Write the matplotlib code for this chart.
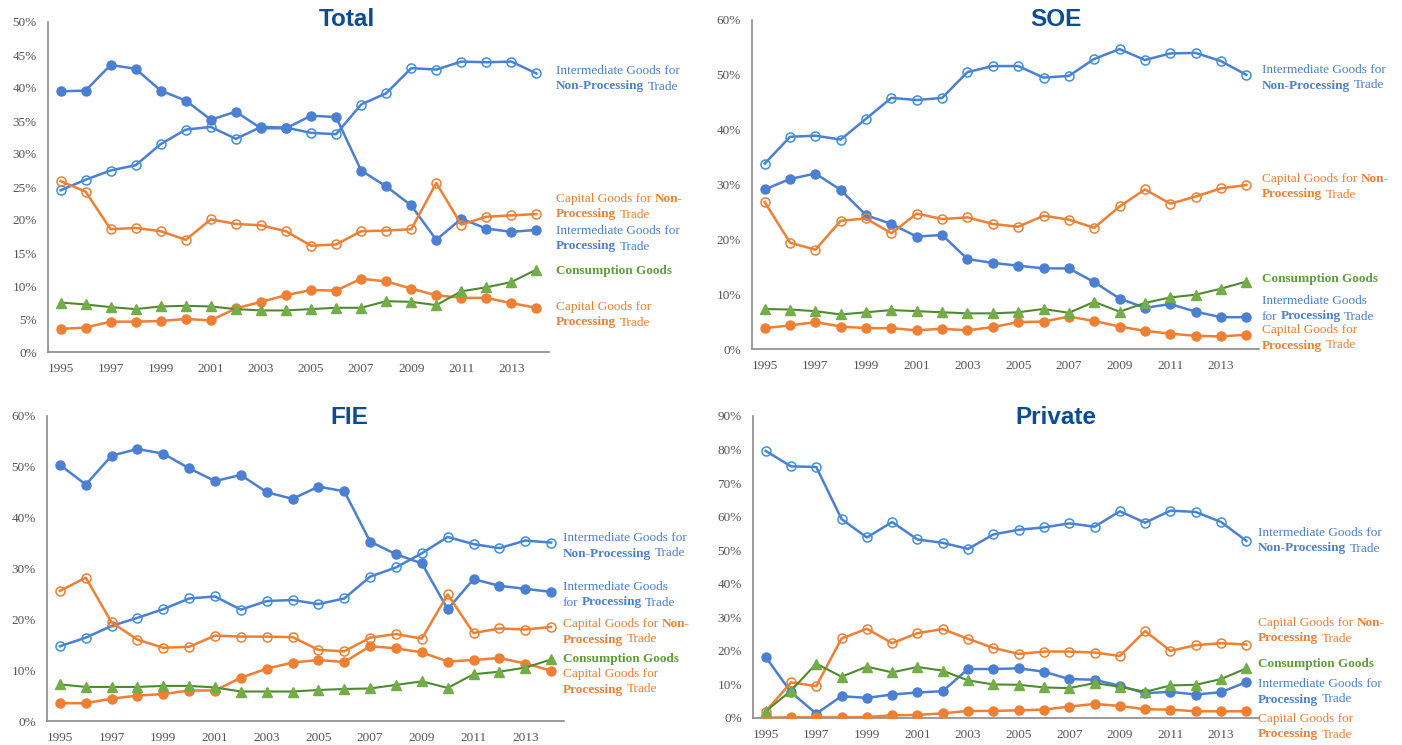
import matplotlib
matplotlib.use("Agg")
import matplotlib.pyplot as plt
import matplotlib.ticker as ticker

years = list(range(1995, 2015))
year_ticks = years[::2]

# ---- Total ----
total_int_nonproc = [24.5, 26.1, 27.5, 28.3, 31.5, 33.7, 34.1, 32.3, 34.1, 34.0,
                     33.2, 33.0, 37.5, 39.2, 43.0, 42.8, 44.0, 43.9, 44.0, 42.2]
total_int_proc = [39.5, 39.6, 43.5, 42.9, 39.6, 38.1, 35.2, 36.4, 33.9, 33.9,
                  35.8, 35.6, 27.5, 25.1, 22.2, 17.0, 20.2, 18.7, 18.2, 18.5]
total_cap_nonproc = [25.9, 24.3, 18.6, 18.8, 18.3, 17.0, 20.1, 19.4, 19.2, 18.3,
                     16.1, 16.3, 18.3, 18.4, 18.6, 25.6, 19.3, 20.5, 20.7, 20.9]
total_cap_proc = [3.5, 3.7, 4.6, 4.6, 4.7, 5.0, 4.8, 6.6, 7.6, 8.6,
                  9.4, 9.3, 11.1, 10.7, 9.6, 8.6, 8.2, 8.2, 7.4, 6.7]
total_consumption = [7.5, 7.2, 6.8, 6.5, 6.9, 7.0, 6.9, 6.5, 6.3, 6.3,
                     6.5, 6.7, 6.7, 7.7, 7.6, 7.1, 9.2, 9.8, 10.6, 12.5]

# ---- SOE ----
soe_int_nonproc = [33.8, 38.7, 38.9, 38.2, 42.0, 45.8, 45.4, 45.8, 50.5, 51.6,
                   51.6, 49.5, 49.8, 52.9, 54.7, 52.7, 53.9, 54.0, 52.5, 50.0]
soe_int_proc = [29.1, 31.0, 32.0, 29.0, 24.4, 22.8, 20.5, 20.8, 16.4, 15.7,
                15.2, 14.7, 14.7, 12.2, 9.2, 7.5, 8.2, 6.8, 5.8, 5.8]
soe_cap_nonproc = [26.8, 19.4, 18.1, 23.4, 23.8, 21.1, 24.7, 23.7, 24.0, 22.8,
                   22.3, 24.3, 23.6, 22.1, 26.0, 29.1, 26.5, 27.8, 29.3, 29.9]
soe_cap_proc = [3.8, 4.3, 4.9, 4.1, 3.8, 3.8, 3.4, 3.7, 3.4, 4.0,
                4.9, 5.0, 5.9, 5.1, 4.1, 3.3, 2.8, 2.4, 2.3, 2.6]
soe_consumption = [7.3, 7.2, 6.9, 6.3, 6.7, 7.1, 6.9, 6.7, 6.5, 6.5,
                   6.7, 7.3, 6.6, 8.6, 6.8, 8.4, 9.4, 9.9, 11.0, 12.3]

# ---- FIE ----
fie_int_nonproc = [14.7, 16.4, 18.7, 20.3, 22.0, 24.1, 24.5, 21.9, 23.6, 23.8,
                   23.0, 24.1, 28.4, 30.2, 33.0, 36.2, 34.8, 34.0, 35.5, 35.1]
fie_int_proc = [50.4, 46.5, 52.2, 53.5, 52.6, 49.7, 47.2, 48.4, 45.0, 43.7,
                46.1, 45.2, 35.3, 32.8, 31.0, 22.0, 27.9, 26.6, 26.0, 25.4]
fie_cap_nonproc = [25.6, 28.2, 19.4, 16.0, 14.4, 14.6, 16.8, 16.6, 16.6, 16.5,
                   14.0, 13.7, 16.4, 17.1, 16.2, 24.9, 17.3, 18.2, 18.0, 18.5]
fie_cap_proc = [3.5, 3.5, 4.4, 5.0, 5.3, 6.0, 6.0, 8.5, 10.3, 11.5,
                12.0, 11.6, 14.7, 14.3, 13.5, 11.7, 12.0, 12.4, 11.3, 9.9]
fie_consumption = [7.2, 6.7, 6.7, 6.7, 6.9, 6.9, 6.6, 5.8, 5.8, 5.8,
                   6.1, 6.3, 6.4, 7.1, 7.8, 6.5, 9.2, 9.7, 10.5, 12.1]

# ---- Private ----
priv_int_nonproc = [79.6, 75.0, 74.8, 59.3, 53.8, 58.4, 53.2, 52.2, 50.4, 54.7,
                    56.1, 56.8, 58.0, 57.0, 61.6, 58.2, 61.8, 61.4, 58.4, 52.8]
priv_int_proc = [18.2, 7.7, 1.3, 6.5, 6.0, 7.0, 7.6, 8.0, 14.6, 14.6,
                 14.8, 13.8, 11.6, 11.4, 9.6, 7.4, 7.8, 7.0, 7.7, 10.7]
priv_cap_nonproc = [1.9, 10.6, 9.5, 23.7, 26.6, 22.3, 25.3, 26.5, 23.6, 20.9,
                    19.1, 19.8, 19.8, 19.5, 18.5, 25.9, 20.0, 21.7, 22.3, 21.9]
priv_cap_proc = [0.1, 0.2, 0.2, 0.2, 0.3, 0.8, 0.9, 1.4, 2.1, 2.1,
                 2.3, 2.5, 3.4, 4.2, 3.6, 2.6, 2.5, 2.0, 2.0, 2.0]
priv_consumption = [2.0, 8.1, 16.2, 12.3, 15.3, 13.6, 15.2, 14.1, 11.2, 10.0,
                    9.9, 9.1, 8.9, 10.4, 9.3, 7.8, 9.7, 9.9, 11.6, 14.8]

BLUE = '#4a7fd2'
BLUE_OPEN = '#3a92e0'
ORANGE = '#ef7f32'
GREEN_LINE = '#4f8a2f'
GREEN_MARK = '#72ad47'
GREEN_TEXT = '#5c9e38'
TITLE_COLOR = '#0b4d94'
W, H = 1402, 745

SERIF = 'Liberation Serif'


def draw_series(ax, ip, inp, cp, cnp, cons):
    ax.plot(years, inp, color=BLUE, lw=1.8, marker='o', ms=6.5,
            mfc='none', mec=BLUE_OPEN, mew=1.1, zorder=3)
    ax.plot(years, ip, color=BLUE, lw=1.8, marker='o', ms=6.5,
            mfc=BLUE, mec=BLUE, zorder=3)
    ax.plot(years, cnp, color=ORANGE, lw=1.8, marker='o', ms=6.5,
            mfc='none', mec=ORANGE, mew=1.1, zorder=3)
    ax.plot(years, cp, color=ORANGE, lw=1.8, marker='o', ms=6.5,
            mfc=ORANGE, mec=ORANGE, zorder=3)
    ax.plot(years, cons, color=GREEN_LINE, lw=1.5, marker='^', ms=6.5,
            mfc=GREEN_MARK, mec=GREEN_MARK, zorder=3)


def style_axes(ax, ymax, ystep):
    ax.set_xlim(1994.5, 2014.5)
    ax.set_ylim(0, ymax)
    ax.set_xticks(year_ticks)
    ax.set_yticks(range(0, ymax + 1, ystep))
    ax.yaxis.set_major_formatter(ticker.PercentFormatter(decimals=0))
    for s in ['top', 'right']:
        ax.spines[s].set_visible(False)
    for s in ['left', 'bottom']:
        ax.spines[s].set_color('#8a8a8a')
        ax.spines[s].set_linewidth(1.2)
    ax.tick_params(length=0, labelsize=9.5, labelcolor='#555555', pad=8)
    for lab in ax.get_xticklabels() + ax.get_yticklabels():
        lab.set_fontfamily(SERIF)


def rich_line(ax, x, y, parts, color):
    # pieces of one line, chained left to right so bold and normal can mix
    prev = None
    for text, bold in parts:
        kw = dict(color=color, fontsize=9.5, family=SERIF,
                  fontweight='bold' if bold else 'normal', ha='left')
        if prev is None:
            prev = ax.annotate(text, xy=(x, H - y), xycoords='figure pixels',
                               va='center', **kw)
        else:
            prev = ax.annotate(text, xy=(1, 0), xycoords=prev,
                               xytext=(2.3, 0), textcoords='offset points',
                               va='bottom', **kw)


def add_labels(ax, x, pos, int_proc_split):
    rich_line(ax, x, pos['inp'], [('Intermediate Goods for', False)], BLUE)
    rich_line(ax, x, pos['inp'] + 15.5,
              [('Non-Processing', True), ('Trade', False)], BLUE)
    rich_line(ax, x, pos['cnp'],
              [('Capital Goods for', False), ('Non-', True)], ORANGE)
    rich_line(ax, x, pos['cnp'] + 15.5,
              [('Processing', True), ('Trade', False)], ORANGE)
    if int_proc_split:
        rich_line(ax, x, pos['ip'], [('Intermediate Goods', False)], BLUE)
        rich_line(ax, x, pos['ip'] + 15.5,
                  [('for', False), ('Processing', True), ('Trade', False)],
                  BLUE)
    else:
        rich_line(ax, x, pos['ip'], [('Intermediate Goods for', False)], BLUE)
        rich_line(ax, x, pos['ip'] + 15.5,
                  [('Processing', True), ('Trade', False)], BLUE)
    rich_line(ax, x, pos['cons'], [('Consumption Goods', True)], GREEN_TEXT)
    rich_line(ax, x, pos['cp'], [('Capital Goods for', False)], ORANGE)
    rich_line(ax, x, pos['cp'] + 15.5,
              [('Processing', True), ('Trade', False)], ORANGE)


def make_axes(fig, left, right, top, bottom):
    return fig.add_axes([left / W, (H - bottom) / H,
                         (right - left) / W, (bottom - top) / H])


def main():
    fig = plt.figure(figsize=(W / 100, H / 100), dpi=100)

    panels = [
        dict(name='Total', box=(48, 549, 22, 352), ymax=50, step=5,
             data=(total_int_proc, total_int_nonproc, total_cap_proc,
                   total_cap_nonproc, total_consumption),
             title=(347, 20), lx=556, split=False,
             pos=dict(inp=71, cnp=199, ip=231, cons=271, cp=307)),
        dict(name='SOE', box=(752, 1259, 20, 349), ymax=60, step=10,
             data=(soe_int_proc, soe_int_nonproc, soe_cap_proc,
                   soe_cap_nonproc, soe_consumption),
             title=(1056, 20), lx=1262, split=True,
             pos=dict(inp=70, cnp=179, ip=301, cons=279, cp=330)),
        dict(name='FIE', box=(47, 564, 416, 721), ymax=60, step=10,
             data=(fie_int_proc, fie_int_nonproc, fie_cap_proc,
                   fie_cap_nonproc, fie_consumption),
             title=(349, 418), lx=563, split=True,
             pos=dict(inp=538, cnp=624, ip=587, cons=659, cp=674)),
        dict(name='Private', box=(753, 1259, 416, 718), ymax=90, step=10,
             data=(priv_int_proc, priv_int_nonproc, priv_cap_proc,
                   priv_cap_nonproc, priv_consumption),
             title=(1056, 418), lx=1258, split=False,
             pos=dict(inp=533, cnp=623, ip=684, cons=664, cp=719)),
    ]

    for p in panels:
        ax = make_axes(fig, *p['box'])
        draw_series(ax, *p['data'])
        style_axes(ax, p['ymax'], p['step'])
        add_labels(ax, p['lx'], p['pos'], p['split'])
        tx, ty = p['title']
        fig.text(tx / W, (H - ty) / H, p['name'], ha='center', va='center',
                 fontsize=17.5, fontweight='bold', color=TITLE_COLOR,
                 family='Liberation Sans')

    fig.savefig('out.png', dpi=100)


if __name__ == '__main__':
    main()
